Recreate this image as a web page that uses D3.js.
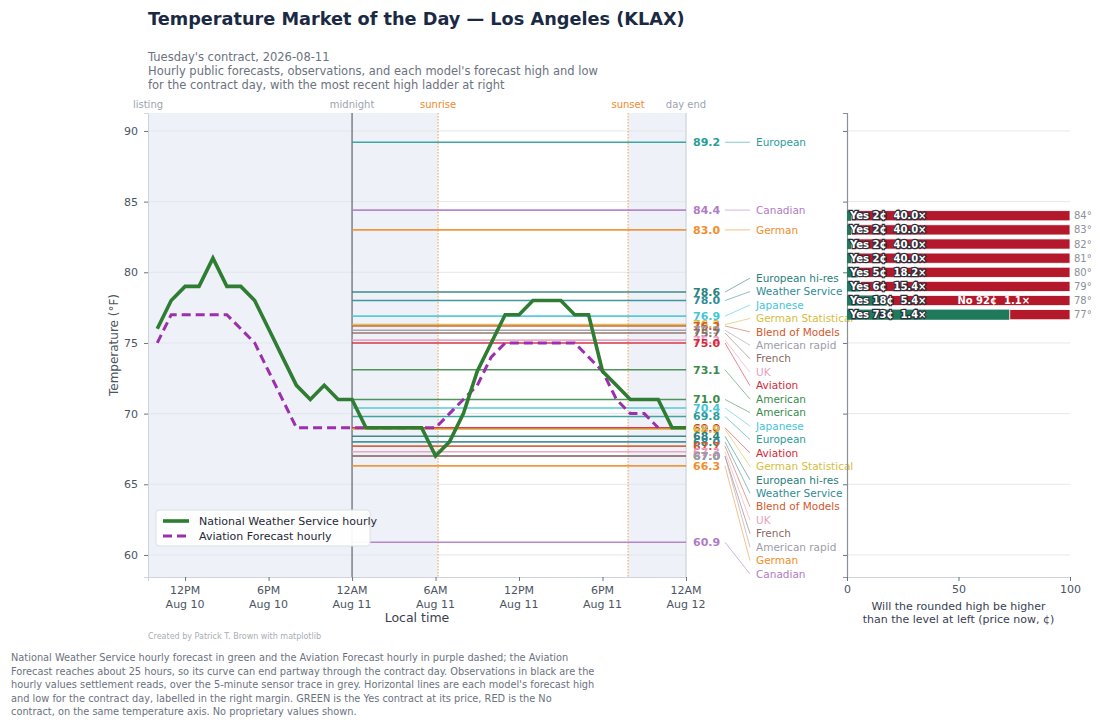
<!DOCTYPE html>
<html><head><meta charset="utf-8">
<script src="https://cdn.jsdelivr.net/npm/d3@7"></script>
<style>body{margin:0;background:#fff;font-family:"DejaVu Sans",sans-serif}</style>
</head><body><svg id="c" width="1100" height="727"></svg>
<script>
// ---------------- data ----------------
const titleText = "Temperature Market of the Day \u2014 Los Angeles (KLAX)";
const subtitleLines = ["Tuesday's contract, 2026-08-11",
  "Hourly public forecasts, observations, and each model's forecast high and low",
  "for the contract day, with the most recent high ladder at right"];
const captionLines = [
  "National Weather Service hourly forecast in green and the Aviation Forecast hourly in purple dashed; the Aviation",
  "Forecast reaches about 25 hours, so its curve can end partway through the contract day. Observations in black are the",
  "hourly values settlement reads, over the 5-minute sensor trace in grey. Horizontal lines are each model's forecast high",
  "and low for the contract day, labelled in the right margin. GREEN is the Yes contract at its price, RED is the No",
  "contract, on the same temperature axis. No proprietary values shown."];
const creditText = "Created by Patrick T. Brown with matplotlib";

const listingTime = new Date(2026,7,10,9,20);
const midnightTime = new Date(2026,7,11,0,0);
const sunriseTime = new Date(2026,7,11,6,11);
const sunsetTime = new Date(2026,7,11,19,50);
const dayEndTime = new Date(2026,7,12,0,0);

const nwsStart = new Date(2026,7,10,10);
const nwsTemps = [76,78,79,79,81,79,79,78,76,74,72,71,72,71,
  71,69,69,69,69,69,67,68,70,73,75,77,77,78,78,78,77,77,73,72,71,71,71,69,69];
const avnStart = new Date(2026,7,10,10);
const avnTemps = [75,77,77,77,77,77,76,75,73,71,69,69,69,69,
  69,69,69,69,69,69,69,70,71,72,74,75,75,75,75,75,75,74,73,71,70,70,69];

const modelNames  = ["European","Canadian","German","European hi-res","Weather Service","Japanese",
  "German Statistical","Blend of Models","American rapid","French","UK","Aviation","American"];
const modelHighs  = [89.2,84.4,83.0,78.6,78.0,76.9,76.3,76.2,75.9,75.7,75.2,75.0,73.1];
const modelLows   = [69.8,60.9,66.3,68.4,68.0,70.4,68.9,67.7,67.0,67.0,67.3,69.0,71.0];
const modelColors = ["#2a9d9a","#b07cc6","#f28e2b","#2b807a","#2f8c96","#45c6d8",
  "#d6bd3e","#d2582e","#9d9caa","#8b6b62","#e99ec2","#d62839","#3b8b4c"];

const ladderLevels = [84,83,82,81,80,79,78,77];
const yesPrices    = [2,2,2,2,5,6,18,73];
const yesMults     = ["40.0\u00d7","40.0\u00d7","40.0\u00d7","40.0\u00d7","18.2\u00d7","15.4\u00d7","5.4\u00d7","1.4\u00d7"];
const noPrices     = [null,null,null,null,null,null,92,null];
const noMults      = [null,null,null,null,null,null,"1.1\u00d7",null];

const yTicks = [60,65,70,75,80,85,90];
const ladderTicks = [0,50,100];

// ---------------- layout ----------------
const svg = d3.select("#c");
const M = {l:148, r:686, t:113, b:577};
const L = {l:847, r:1070};
const x = d3.scaleTime().domain([listingTime, dayEndTime]).range([M.l, M.r]);
const y = d3.scaleLinear().domain([58.44, 91.27]).range([M.b, M.t]);
const xl = d3.scaleLinear().domain([0,100]).range([L.l, L.r]);
const gray = "#6b7280";

// title
svg.append("text").attr("x",148).attr("y",25).attr("font-size",17.7).attr("font-weight","bold")
  .attr("fill","#1b2a44").text(titleText);
subtitleLines.forEach((s,i)=>svg.append("text").attr("x",148).attr("y",61+i*14.2)
  .attr("font-size",11.5).attr("fill",gray).text(s));

// shading
const shade = "#eef1f7";
[[listingTime,midnightTime],[midnightTime,sunriseTime],[sunsetTime,dayEndTime]].forEach(([a,b])=>{
  svg.append("rect").attr("x",x(a)).attr("y",M.t).attr("width",x(b)-x(a)).attr("height",M.b-M.t).attr("fill",shade);
});

// gridlines
const gy = svg.append("g");
yTicks.forEach(t=>{
  gy.append("line").attr("x1",M.l).attr("x2",M.r).attr("y1",y(t)).attr("y2",y(t)).attr("stroke","#e3e6ec").attr("stroke-width",1);
  gy.append("line").attr("x1",L.l).attr("x2",L.r).attr("y1",y(t)).attr("y2",y(t)).attr("stroke","#e6e8ee").attr("stroke-width",1);
});

// y axis main
const yAx = svg.append("g").attr("transform",`translate(${M.l},0)`)
  .call(d3.axisLeft(y).tickValues(yTicks).tickSize(4).tickPadding(6));
yAx.select(".domain").attr("stroke","#cfd3da");
yAx.selectAll(".tick line").attr("stroke","#6b7280");
yAx.selectAll("text").attr("font-size",11).attr("fill","#4b5563").attr("font-family","DejaVu Sans");
svg.append("text").attr("transform",`translate(118,${(M.t+M.b)/2}) rotate(-90)`).attr("text-anchor","middle")
  .attr("font-size",12).attr("fill","#4b5563").text("Temperature (\u00b0F)");

// x axis main
const xAx = svg.append("g").attr("transform",`translate(0,${M.b})`)
  .call(d3.axisBottom(x).ticks(d3.timeHour.every(6)).tickSize(4).tickFormat(""));
xAx.select(".domain").attr("stroke","#cfd3da");
xAx.selectAll(".tick line").attr("stroke","#6b7280");
const fTop = d3.timeFormat("%-I%p"), fBot = d3.timeFormat("%b %-d");
x.ticks(d3.timeHour.every(6)).forEach(t=>{
  const tx = svg.append("text").attr("x",x(t)).attr("text-anchor","middle").attr("font-size",11).attr("fill","#4b5563");
  tx.append("tspan").attr("x",x(t)).attr("y",594).text(fTop(t));
  tx.append("tspan").attr("x",x(t)).attr("y",608).text(fBot(t));
});
svg.append("text").attr("x",(M.l+M.r)/2).attr("y",622).attr("text-anchor","middle").attr("font-size",12.5)
  .attr("fill","#374151").text("Local time");

// vertical markers
svg.append("line").attr("x1",x(dayEndTime)).attr("x2",x(dayEndTime)).attr("y1",M.t).attr("y2",M.b).attr("stroke","#d5d9e0").attr("stroke-width",1.5);
svg.append("line").attr("x1",x(midnightTime)).attr("x2",x(midnightTime)).attr("y1",M.t).attr("y2",M.b).attr("stroke","#7d8087").attr("stroke-width",1.5);
[sunriseTime,sunsetTime].forEach(t=>svg.append("line").attr("x1",x(t)).attr("x2",x(t)).attr("y1",M.t).attr("y2",M.b)
  .attr("stroke","#f0a050").attr("stroke-width",1).attr("stroke-dasharray","1.5,1.5"));
const markers = [["listing",listingTime,"#9ca3af"],["midnight",midnightTime,"#9ca3af"],["sunrise",sunriseTime,"#f08a2c"],
  ["sunset",sunsetTime,"#f08a2c"],["day end",dayEndTime,"#9ca3af"]];
markers.forEach(([s,t,c])=>svg.append("text").attr("x",x(t)).attr("y",108).attr("text-anchor","middle")
  .attr("font-size",10).attr("fill",c).text(s));

// model lines
const entries = [];
modelNames.forEach((n,i)=>{
  entries.push({name:n,v:modelHighs[i],c:modelColors[i]});
  entries.push({name:n,v:modelLows[i],c:modelColors[i]});
});
entries.forEach(e=>svg.append("line").attr("x1",x(midnightTime)).attr("x2",x(dayEndTime)).attr("y1",y(e.v)).attr("y2",y(e.v))
  .attr("stroke",e.c).attr("stroke-width",1.6).attr("opacity",0.9));

// hourly lines
const nws = nwsTemps.map((v,i)=>({t:d3.timeHour.offset(nwsStart,i),v}));
const avn = avnTemps.map((v,i)=>({t:d3.timeHour.offset(avnStart,i),v}));
const line = d3.line().x(d=>x(d.t)).y(d=>y(d.v));
svg.append("path").attr("d",line(avn)).attr("fill","none").attr("stroke","#9b2fae").attr("stroke-width",3)
  .attr("stroke-dasharray","9,5");
svg.append("path").attr("d",line(nws)).attr("fill","none").attr("stroke","#2e7d32").attr("stroke-width",3.6)
  .attr("stroke-linejoin","miter");

// right-margin labels
const sorted = entries.slice().sort((a,b)=> b.v-a.v || (a.name<b.name?1:-1));
const gap = 13.45, bottomLim = 574;
sorted.forEach((e,i)=>{ e.ly = y(e.v); if(i>0) e.ly = Math.max(e.ly, sorted[i-1].ly+gap); });
for(let i=sorted.length-1;i>=0;i--){
  if(i===sorted.length-1) sorted[i].ly = Math.min(sorted[i].ly,bottomLim);
  else sorted[i].ly = Math.min(sorted[i].ly, sorted[i+1].ly-gap);
}
const fmt = d3.format(".1f");
sorted.forEach(e=>{
  svg.append("text").attr("x",693).attr("y",y(e.v)).attr("dy","0.35em").attr("font-size",11).attr("font-weight","bold")
    .attr("fill",e.c).text(fmt(e.v));
  svg.append("line").attr("x1",725).attr("x2",750).attr("y1",y(e.v)).attr("y2",e.ly).attr("stroke",e.c)
    .attr("stroke-width",1).attr("opacity",0.55);
  svg.append("text").attr("x",756).attr("y",e.ly).attr("dy","0.35em").attr("font-size",10.5)
    .attr("fill",e.c).text(e.name);
});

// legend
const lg = svg.append("g").attr("transform","translate(156,510)");
lg.append("rect").attr("width",214).attr("height",36).attr("rx",3).attr("fill","#fff").attr("stroke","#dcdfe4").attr("opacity",0.95);
lg.append("line").attr("x1",7).attr("x2",33).attr("y1",11).attr("y2",11).attr("stroke","#2e7d32").attr("stroke-width",3.6);
lg.append("line").attr("x1",7).attr("x2",33).attr("y1",26).attr("y2",26).attr("stroke","#9b2fae").attr("stroke-width",3).attr("stroke-dasharray","9,5");
lg.append("text").attr("x",43).attr("y",11).attr("dy","0.35em").attr("font-size",11).attr("fill","#1f2937").text("National Weather Service hourly");
lg.append("text").attr("x",43).attr("y",26).attr("dy","0.35em").attr("font-size",11).attr("fill","#1f2937").text("Aviation Forecast hourly");

// ---------------- ladder ----------------
const yAx2 = svg.append("g").attr("transform",`translate(${L.l},0)`)
  .call(d3.axisLeft(y).tickValues(yTicks).tickSize(4).tickFormat(""));
yAx2.select(".domain").attr("stroke","#8a8f98").attr("stroke-width",1.2);
yAx2.selectAll(".tick line").attr("stroke","#6b7280");
const xAx2 = svg.append("g").attr("transform",`translate(0,${M.b})`)
  .call(d3.axisBottom(xl).tickValues(ladderTicks).tickSize(4).tickPadding(4));
xAx2.select(".domain").attr("stroke","#cfd3da");
xAx2.selectAll(".tick line").attr("stroke","#6b7280");
xAx2.selectAll("text").attr("font-size",11).attr("fill","#4b5563").attr("font-family","DejaVu Sans");
["Will the rounded high be higher","than the level at left (price now, \u00a2)"].forEach((s,i)=>
  svg.append("text").attr("x",(L.l+L.r)/2).attr("y",610+i*12.5).attr("text-anchor","middle").attr("font-size",11)
    .attr("fill","#374151").text(s));

const bh = y(0) - y(0.72);
ladderLevels.forEach((lv,i)=>{
  const yc = y(lv);
  svg.append("rect").attr("x",xl(0)).attr("y",yc-bh/2).attr("width",xl(yesPrices[i])-xl(0)).attr("height",bh)
    .attr("fill","#1f7a5c");
  svg.append("rect").attr("x",xl(yesPrices[i])).attr("y",yc-bh/2).attr("width",xl(100)-xl(yesPrices[i])).attr("height",bh)
    .attr("fill","#b4182b").attr("stroke","#fff").attr("stroke-width",0.8);
  svg.append("text").attr("x",xl(0)+3).attr("y",yc).attr("dy","0.36em").attr("font-size",10).attr("font-weight","bold")
    .attr("fill","#fff").attr("stroke","#2a2f3a").attr("stroke-width",2.4).attr("paint-order","stroke")
    .style("white-space","pre")
    .text(`Yes ${yesPrices[i]}\u00a2  ${yesMults[i]}`);
  if(noPrices[i]!==null){
    svg.append("text").attr("x",xl(49.5)).attr("y",yc).attr("dy","0.36em").attr("font-size",10).attr("font-weight","bold")
      .attr("fill","#fff").style("white-space","pre").text(`No ${noPrices[i]}\u00a2  ${noMults[i]}`);
  }
  svg.append("text").attr("x",L.r+4).attr("y",yc).attr("dy","0.36em").attr("font-size",10).attr("fill","#8b9099").text(`${lv}\u00b0`);
});

// credit + caption
svg.append("text").attr("x",148).attr("y",639).attr("font-size",8).attr("fill","#a8adb5").text(creditText);
captionLines.forEach((s,i)=>svg.append("text").attr("x",11).attr("y",661+i*13.5).attr("font-size",9.8).attr("fill",gray).text(s));
</script></body></html>
